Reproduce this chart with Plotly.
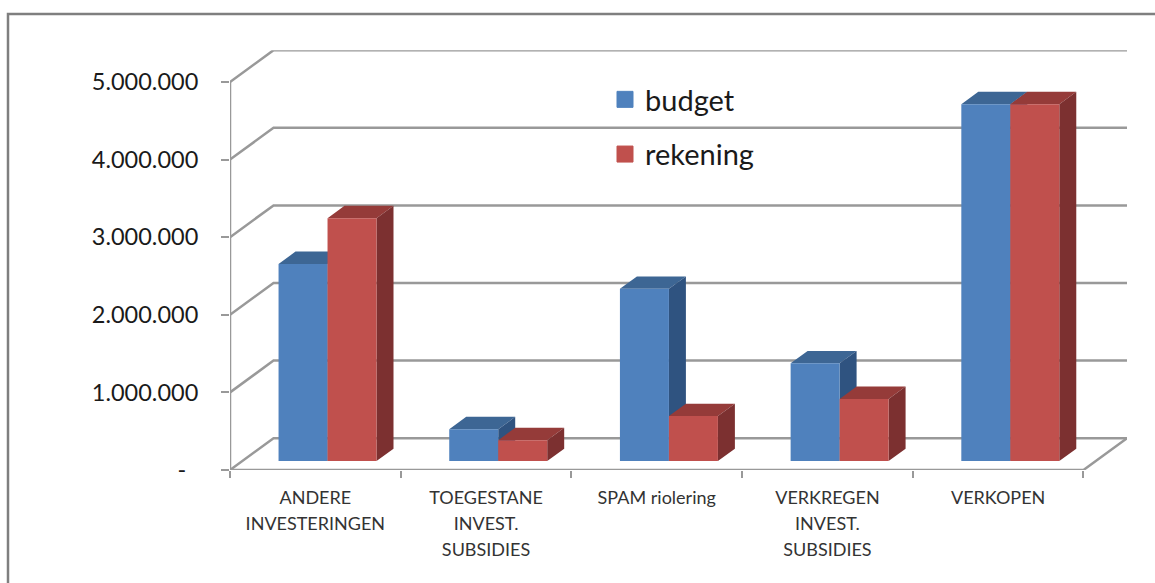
import plotly.graph_objects as go

categories = ["ANDERE<br>INVESTERINGEN", "TOEGESTANE<br>INVEST.<br>SUBSIDIES", "SPAM riolering",
              "VERKREGEN<br>INVEST.<br>SUBSIDIES", "VERKOPEN"]
budget = [2540000, 410000, 2220000, 1260000, 4600000]
rekening = [3130000, 270000, 580000, 800000, 4600000]
y_ticks = [0, 1000000, 2000000, 3000000, 4000000, 5000000]
y_labels = ["-\u00a0\u00a0", "1.000.000", "2.000.000", "3.000.000", "4.000.000", "5.000.000"]

W, H = 1155, 583
DX, DY = 0.255, 410000      # shift of the full chart depth, in axis units
D0, D1 = 0.28, 0.67         # bar front / back, as depth fractions
BAR_W = 0.287
GRID = "#999999"
FRONT = {"budget": "#4F81BD", "rekening": "#C0504D"}
TOP = {"budget": "#3D6694", "rekening": "#953B39"}
SIDE = {"budget": "#2F5380", "rekening": "#7C3030"}
n = len(categories)


def join(polys):
    xs, ys = [], []
    for poly in polys:
        xs += [p[0] for p in poly] + [poly[0][0], None]
        ys += [p[1] for p in poly] + [poly[0][1], None]
    return xs, ys


fig = go.Figure()

# walls and floor
gx, gy = [], []
for v in y_ticks:
    gx += [-0.5, -0.5 + DX, n - 0.5 + DX, None]
    gy += [v, v + DY, v + DY, None]
gx += [-0.5, -0.5, None, -0.5, n - 0.5, n - 0.5 + DX]
gy += [y_ticks[-1], 0, None, 0, 0, DY]
fig.add_trace(go.Scatter(x=gx, y=gy, mode="lines", line=dict(color=GRID, width=2.5),
                         showlegend=False, hoverinfo="skip", cliponaxis=False))

# bars
base = D0 * DY
for name, values, off in (("budget", budget, -BAR_W), ("rekening", rekening, 0.0)):
    front, top, side = [], [], []
    for i, v in enumerate(values):
        l = i + D0 * DX + off
        r = l + BAR_W
        b, t = base, base + v
        ddx, ddy = (D1 - D0) * DX, (D1 - D0) * DY
        front.append([(l, b), (r, b), (r, t), (l, t)])
        top.append([(l, t), (r, t), (r + ddx, t + ddy), (l + ddx, t + ddy)])
        side.append([(r, b), (r + ddx, b + ddy), (r + ddx, t + ddy), (r, t)])
    for polys, colors in ((top, TOP), (side, SIDE), (front, FRONT)):
        xs, ys = join(polys)
        fig.add_trace(go.Scatter(x=xs, y=ys, mode="lines", fill="toself", fillcolor=colors[name],
                                 line=dict(width=0), showlegend=False, hoverinfo="skip"))

# legend keys
for name in ("budget", "rekening"):
    fig.add_trace(go.Scatter(x=[None], y=[None], mode="markers", name=name, legendgroup=name,
                             marker=dict(symbol="square", size=16, color=FRONT[name],
                                         line=dict(width=1, color=FRONT[name]))))


def px_x(p):
    return p / W


def px_y(p):
    return 1 - p / H


fig.update_layout(
    width=W, height=H, autosize=False, margin=dict(l=0, r=0, t=0, b=0),
    paper_bgcolor="white", plot_bgcolor="white",
    xaxis=dict(domain=[px_x(230), px_x(1127)], range=[-0.5, n - 0.5 + DX], automargin=False,
               tickmode="array", tickvals=list(range(n)),
               ticktext=[f"<span style='font-size:18px'>{c}</span>" for c in categories],
               ticks="", showgrid=False, zeroline=False, showline=False, ticklabelstandoff=13,
               tickfont=dict(family="Lato", size=20, color="#333333"),
               tickangle=0,
               minor=dict(tickvals=[i - 0.5 for i in range(n + 1)], ticks="outside", ticklen=7,
                          tickwidth=2, tickcolor=GRID, showgrid=False)),
    yaxis=dict(domain=[px_y(470), px_y(470 - 77.6 * (5 + DY / 1e6))], range=[0, 5000000 + DY],
               automargin=False,
               tickmode="array", tickvals=y_ticks, ticktext=y_labels,
               ticks="outside", ticklen=8, tickwidth=2, tickcolor=GRID, ticklabelstandoff=18,
               showgrid=False, zeroline=False, showline=False,
               tickfont=dict(family="Lato", size=23.5, color="#1a1a1a")),
    showlegend=True,
    legend=dict(x=px_x(605), y=px_y(74), xanchor="left", yanchor="top", tracegroupgap=14,
                font=dict(family="Lato", size=29, color="#1a1a1a"), bgcolor="rgba(0,0,0,0)",
                itemclick=False, itemdoubleclick=False),
    shapes=[dict(type="rect", xref="paper", yref="paper", x0=px_x(8), x1=px_x(1175),
                 y0=px_y(620), y1=px_y(14), line=dict(color="#7F7F7F", width=2.5), layer="below")],
)

fig.write_html("out.html", config={"displayModeBar": False},
               post_script="document.body.style.margin='0';")
